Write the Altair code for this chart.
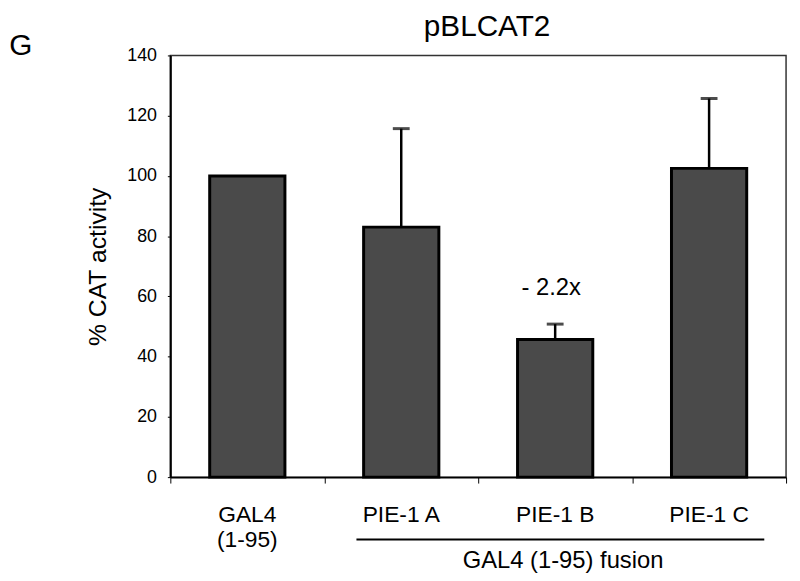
import altair as alt
import pandas as pd

# ---- data ----
categories = ["GAL4", "PIE-1 A", "PIE-1 B", "PIE-1 C"]
cat_labels = ["GAL4\n(1-95)", "PIE-1 A", "PIE-1 B", "PIE-1 C"]
values = [100, 83, 45.7, 102.5]

err_categories = ["PIE-1 A", "PIE-1 B", "PIE-1 C"]
err_base = [83, 45.7, 102.5]
err_top = [115.7, 50.8, 125.7]

annot_category = ["PIE-1 B"]
annot_value = [62.6]
annot_text = ["- 2.2x"]

title_text = ["pBLCAT2"]
panel_letter = ["G"]
y_title = "% CAT activity"
group_label = ["GAL4 (1-95) fusion"]
group_anchor = ["PIE-1 B"]
y_ticks = [0, 20, 40, 60, 80, 100, 120, 140]

FONT = "Liberation Sans"

bars_df = pd.DataFrame({"category": categories, "label": cat_labels, "value": values})
err_df = pd.DataFrame({"category": err_categories, "value": err_base, "top": err_top})
annot_df = pd.DataFrame({"category": annot_category, "value": annot_value, "text": annot_text})

x_scale = alt.Scale(domain=categories, paddingInner=0, paddingOuter=0)
y_scale = alt.Scale(domain=[0, 140], nice=False)

x_axis = alt.Axis(labels=False, title=None, domainColor="black", domainWidth=2,
                  tickColor="black", tickSize=6, tickWidth=1, tickBand="extent", grid=False)
y_axis = alt.Axis(values=y_ticks, title=y_title, grid=False, domainColor="black", domainWidth=2,
                  tickColor="black", tickSize=3, labelFont=FONT, labelFontSize=18,
                  labelColor="black", labelPadding=11, titleFont=FONT, titleFontSize=25,
                  titleFontWeight="normal", titleColor="black", titlePadding=16)


def xenc():
    return alt.X("category:N", scale=x_scale, sort=categories, axis=x_axis, title=None)


def yenc(field):
    return alt.Y(field, scale=y_scale, axis=y_axis, title=y_title)


base = alt.Chart(bars_df)

bars = base.mark_bar(size=76, color="#4a4a4a", stroke="black", strokeWidth=3).encode(
    x=xenc(), y=yenc("value:Q"),
)

err_rule = alt.Chart(err_df).mark_rule(color="black", strokeWidth=2.5).encode(
    x=xenc(), y=yenc("value:Q"), y2="top:Q",
)

err_cap = alt.Chart(err_df).mark_tick(color="black", size=17, thickness=3).encode(
    x=xenc(), y=yenc("top:Q"),
)

annot = alt.Chart(annot_df).mark_text(font=FONT, fontSize=24, color="black", dx=-4,
                                      baseline="middle", align="center").encode(
    x=xenc(), y=yenc("value:Q"), text="text:N",
)

cat_text = base.mark_text(font=FONT, fontSize=23, color="black", lineBreak="\n",
                          lineHeight=26, baseline="middle", align="center").encode(
    x=xenc(), y=alt.value(464), text="label:N",
)

underline = alt.Chart(pd.DataFrame({"k": [0]})).mark_rule(color="black", strokeWidth=2).encode(
    x=alt.value(188), x2=alt.value(600), y=alt.value(489)
)

group_text = alt.Chart(pd.DataFrame({"category": group_anchor, "t": group_label})).mark_text(
    font=FONT, fontSize=24, color="black", dx=8, baseline="middle", align="center"
).encode(
    x=xenc(), y=alt.value(511), text="t:N",
)

title = alt.Chart(pd.DataFrame({"t": title_text})).mark_text(
    font=FONT, fontSize=30, color="black", baseline="middle", align="center"
).encode(x=alt.value(320), y=alt.value(-29), text="t:N")

letter = alt.Chart(pd.DataFrame({"t": panel_letter})).mark_text(
    font=FONT, fontSize=30, color="black", baseline="middle", align="center"
).encode(x=alt.value(-151), y=alt.value(-9), text="t:N")

chart = alt.layer(bars, err_rule, err_cap, annot, cat_text, underline, group_text, title, letter).properties(
    width=622,
    height=426,
    autosize=alt.AutoSizeParams(type="none"),
    padding={"left": 164, "top": 45, "right": 6, "bottom": 100},
    background="white",
).configure_view(stroke="#333333", strokeWidth=1.5)

chart.save("out.html", embed_options={"renderer": "svg", "actions": False})
